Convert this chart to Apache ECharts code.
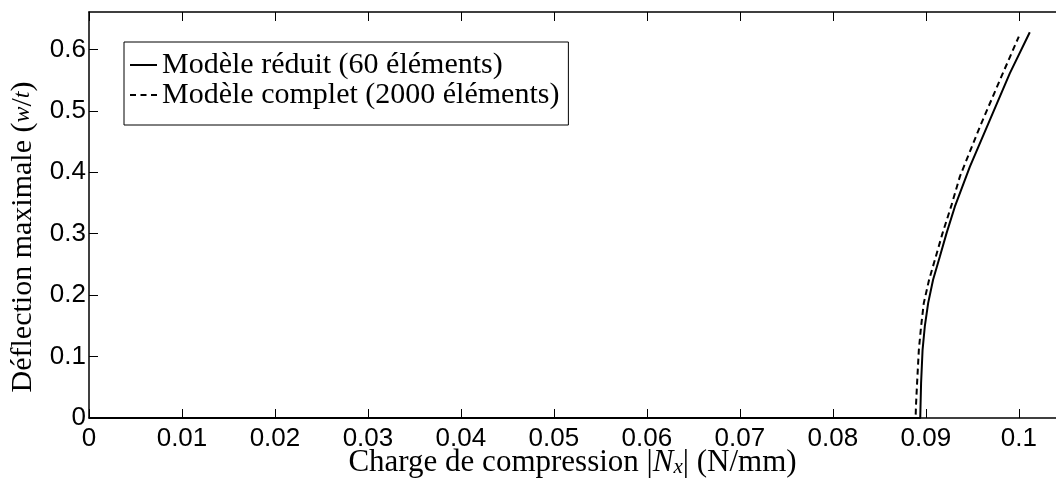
<!DOCTYPE html>
<html>
<head>
<meta charset="utf-8">
<script src="https://cdn.jsdelivr.net/npm/echarts@6/dist/echarts.min.js"></script>
<style>html,body{margin:0;padding:0;background:#fff}#c{width:1056px;height:480px}</style>
</head>
<body>
<div id="c"></div>
<script>
// Data
const reducedX = [0, 0.0894, 0.08943, 0.08949, 0.08965, 0.08989, 0.09025, 0.09078, 0.09151, 0.09223, 0.09312, 0.09473, 0.09688, 0.09903, 0.10118];
const reducedY = [0, 0, 0.02, 0.0565, 0.111, 0.149, 0.187, 0.225, 0.263, 0.301, 0.344, 0.409, 0.485, 0.561, 0.628];
const completeX = [0, 0.0889, 0.08894, 0.08906, 0.08925, 0.08949, 0.08978, 0.09035, 0.09108, 0.0918, 0.09277, 0.09366, 0.09581, 0.09796, 0.1000];
const completeY = [0, 0, 0.02, 0.057, 0.111, 0.149, 0.187, 0.225, 0.263, 0.301, 0.347, 0.393, 0.474, 0.55, 0.621];
const seriesNames = ['Modèle réduit (60 éléments)', 'Modèle complet (2000 éléments)'];
const xTicks = [0, 0.01, 0.02, 0.03, 0.04, 0.05, 0.06, 0.07, 0.08, 0.09, 0.1];
const yTicks = [0, 0.1, 0.2, 0.3, 0.4, 0.5, 0.6];

const pairs = (xs, ys) => xs.map((x, i) => [x, ys[i]]);
const serif = '"Liberation Serif", "DejaVu Serif", serif';
const sans = '"Liberation Sans", Arial, sans-serif';

const chart = echarts.init(document.getElementById('c'), null, {renderer: 'canvas'});
const fmt = v => {
  const t = xTicks.concat(yTicks).find(k => Math.abs(k - v) < 1e-9);
  return t === undefined ? '' : String(+t.toFixed(3));
};
const axisLine = {show: true, onZero: false, lineStyle: {color: '#000', width: 1.5}};
const axisTick = {inside: true, length: 9, lineStyle: {color: '#000', width: 1}};
chart.setOption({
  backgroundColor: '#fff',
  animation: false,
  grid: {left: 89, top: 12, right: 0, bottom: 62, containLabel: false, outerBoundsMode: 'none'},
  legend: {
    orient: 'vertical', left: 124, top: 42,
    borderColor: '#000', borderWidth: 1, padding: [8, 9, 15, 6],
    itemGap: 0, itemWidth: 27, itemHeight: 14,
    textStyle: {fontFamily: serif, fontSize: 30, lineHeight: 30, color: '#000'},
    data: [
      {name: seriesNames[0], icon: 'path://M0,0H27V2H0Z'},
      {name: seriesNames[1], icon: 'path://M0,0H6V2H0Z M10.5,0H16.5V2H10.5Z M21,0H27V2H21Z'}
    ],
    itemStyle: {color: '#000', borderWidth: 0}
  },
  xAxis: [{
    type: 'value', min: 0, max: 0.104, interval: 0.01, position: 'bottom',
    axisLine, axisTick, splitLine: {show: false},
    axisLabel: {fontFamily: sans, fontSize: 26, color: '#000', margin: 8, formatter: fmt, showMaxLabel: false},
    name: 'Charge de compression |{i|N}{s|x}| (N/mm)',
    nameLocation: 'middle', nameGap: 29, nameMoveOverlap: false,
    nameTextStyle: {fontFamily: serif, fontSize: 31, lineHeight: 31, color: '#000',
      rich: {i: {fontFamily: serif, fontStyle: 'italic', fontSize: 31, lineHeight: 31, color: '#000'},
             s: {fontFamily: serif, fontStyle: 'italic', fontSize: 21, lineHeight: 31, color: '#000', verticalAlign: 'bottom', padding: [6, 0, 0, 0]}}}
  }, {
    type: 'value', min: 0, max: 0.104, interval: 0.01, position: 'top',
    axisLine, axisTick, axisLabel: {show: false}, splitLine: {show: false}
  }],
  yAxis: {
    type: 'value', min: 0, max: 0.661, interval: 0.1,
    axisLine, axisTick, splitLine: {show: false},
    axisLabel: {fontFamily: sans, fontSize: 26, color: '#000', margin: 3, formatter: fmt, showMaxLabel: false},
    name: 'Déflection maximale ({i|w}/{i|t})',
    nameLocation: 'middle', nameGap: 51, nameRotate: 90, nameMoveOverlap: false,
    nameTextStyle: {fontFamily: serif, fontSize: 30, color: '#000', padding: [0, 44, 0, 0],
      rich: {i: {fontFamily: serif, fontStyle: 'italic', fontSize: 24, color: '#000'}}}
  },
  series: [{
    name: seriesNames[0], type: 'line', symbol: 'none', data: pairs(reducedX, reducedY),
    lineStyle: {color: '#000', width: 2, type: 'solid'}, itemStyle: {color: '#000'}, z: 3
  }, {
    name: seriesNames[1], type: 'line', symbol: 'none', data: pairs(completeX, completeY),
    lineStyle: {color: '#000', width: 2, type: [6, 4]}, itemStyle: {color: '#000'}, z: 2
  }]
});
</script>
</body>
</html>
